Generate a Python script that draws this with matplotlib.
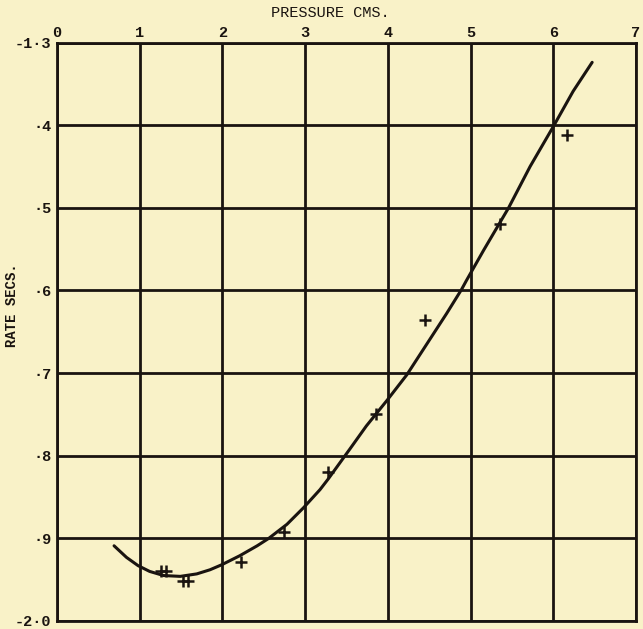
import numpy as np
import matplotlib
matplotlib.use("Agg")
import matplotlib.pyplot as plt

# measured points (pressure in cms, rate in secs)
pressure = [1.26, 1.32, 1.52, 1.58, 2.22, 2.75, 3.28, 3.86, 4.45, 5.36, 6.16]
rate = [-1.939, -1.939, -1.951, -1.951, -1.929, -1.892, -1.820, -1.749, -1.636, -1.520, -1.412]

# hand drawn smooth curve
curve_x = [0.69, 0.84, 0.98, 1.12, 1.29, 1.49, 1.69, 1.85, 1.99, 2.21, 2.42, 2.56,
           2.78, 2.98, 3.18, 3.28, 3.54, 3.74, 3.99, 4.23, 4.47, 4.71, 4.89, 4.95,
           5.16, 5.46, 5.72, 6.01, 6.24, 6.47]
curve_y = [-1.909, -1.923, -1.933, -1.940, -1.945, -1.946, -1.943, -1.938, -1.932,
           -1.921, -1.909, -1.900, -1.883, -1.863, -1.841, -1.828, -1.792, -1.764,
           -1.733, -1.702, -1.665, -1.628, -1.599, -1.588, -1.551, -1.500, -1.450,
           -1.400, -1.359, -1.324]

x_ticks = [0, 1, 2, 3, 4, 5, 6, 7]
y_ticks = [-2.0, -1.9, -1.8, -1.7, -1.6, -1.5, -1.4, -1.3]
y_labels = ["-2·0", "·9", "·8", "·7", "·6", "·5", "·4", "-1·3"]

paper = "#f9f2c8"
ink = "#1a1410"
font = "Liberation Mono"

W, H = 643, 629
fig = plt.figure(figsize=(W / 100, H / 100), dpi=100, facecolor=paper)
ax = fig.add_axes([57 / W, 1 - 621 / H, (636 - 57) / W, (621 - 42.5) / H])
ax.set_facecolor(paper)

ax.set_xlim(0, 7)
ax.set_ylim(-2.0, -1.3)
ax.set_xticks(x_ticks)
ax.set_yticks(y_ticks)
ax.set_yticklabels(y_labels)
ax.xaxis.tick_top()
ax.tick_params(length=0, labelsize=11, colors=ink)
ax.tick_params(axis="x", pad=2)
ax.tick_params(axis="y", pad=4)
for lab in ax.get_xticklabels() + ax.get_yticklabels():
    lab.set_fontfamily(font)
    lab.set_fontweight("bold")

ax.grid(True, color=ink, linewidth=2.0)
for s in ax.spines.values():
    s.set_color(ink)
    s.set_linewidth(2.0)

ax.plot(curve_x, curve_y, color=ink, linewidth=2.2, solid_capstyle="round",
        solid_joinstyle="round", zorder=3)
ax.plot(pressure, rate, linestyle="none", marker="+", markersize=9,
        markeredgewidth=1.8, color=ink, zorder=4)

fig.text(330 / W, 1 - 13 / H, "PRESSURE CMS.", ha="center", va="center",
         fontsize=11, family=font, color=ink)
fig.text(12 / W, 1 - 305 / H, "RATE SECS.", ha="center", va="center",
         rotation=90, fontsize=10, family=font, fontweight="bold", color=ink)

fig.savefig("out.png", dpi=100, facecolor=paper)
